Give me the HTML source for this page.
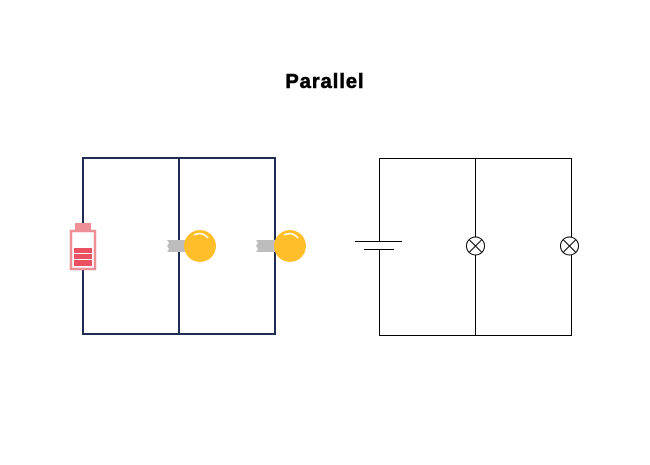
<!DOCTYPE html>
<html><head><style>body{margin:0;background:#fff}</style></head><body>
<svg width="650" height="460" xmlns="http://www.w3.org/2000/svg">
<rect width="650" height="460" fill="#fff"/>
<text x="325" y="88" text-anchor="middle" font-family="Liberation Sans, sans-serif" font-weight="bold" font-size="20" letter-spacing="1" stroke="#000" stroke-width="0.6" fill="#000">Parallel</text>
<g stroke="#1f2d55" stroke-width="2" fill="none">
<path d="M83 223 V158 H275 V334 H83 V270"/>
<path d="M179 158 V334"/>
</g>
<rect x="75" y="223" width="16" height="8" fill="#ee8f96"/>
<rect x="71" y="231" width="24" height="38" fill="#fff" stroke="#ee8f96" stroke-width="2.5"/>
<rect x="74" y="248" width="18" height="5" fill="#e95162"/>
<rect x="74" y="254" width="18" height="5" fill="#e95162"/>
<rect x="74" y="260" width="18" height="6" fill="#e95162"/>
<g>
<path d="M167 240 H186 V252 H167 L169 249 L167 246 L169 243 Z" fill="#bdbdbd"/>
<circle cx="200" cy="246" r="16" fill="#ffbe2a"/>
<path d="M194 235 Q202 231 208 238" stroke="#fff" stroke-width="1.5" fill="none"/>
<path d="M256 240 H275 V252 H256 L258 249 L256 246 L258 243 Z" fill="#bdbdbd"/>
<circle cx="290" cy="246" r="16" fill="#ffbe2a"/>
<path d="M284 235 Q292 231 298 238" stroke="#fff" stroke-width="1.5" fill="none"/>
</g>
<g stroke="#000" stroke-width="1" fill="none">
<path d="M379.5 241 V158.5 H571.5 V237 M571.5 255 V335.5 H379.5 V249"/>
<path d="M475.5 158.5 V237 M475.5 255 V335.5"/>
<path d="M355 241.5 H402 M364 249.5 H394"/>
<circle cx="475.5" cy="246" r="9" fill="#fff"/>
<path d="M469.5 240 L481.5 252 M481.5 240 L469.5 252"/>
<circle cx="569.5" cy="246" r="9" fill="#fff"/>
<path d="M563.5 240 L575.5 252 M575.5 240 L563.5 252"/>
</g>
</svg>
</body></html>
